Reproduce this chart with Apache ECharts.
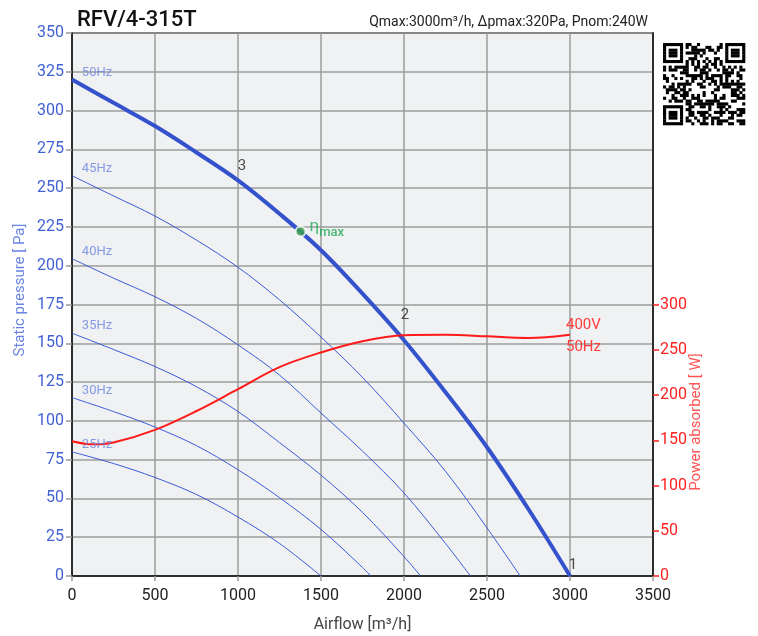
<!DOCTYPE html>
<html>
<head>
<meta charset="utf-8">
<script src="https://cdn.jsdelivr.net/npm/echarts@6.0.0/dist/echarts.min.js"></script>
<style>html,body{margin:0;padding:0;background:#fff;}#chart{width:758px;height:636px;}</style>
</head>
<body>
<div id="chart"></div>
<script>
// ---- data ----
const xTicks = [0, 500, 1000, 1500, 2000, 2500, 3000, 3500];
const curveNames = ['50Hz', '45Hz', '40Hz', '35Hz', '30Hz', '25Hz'];
const curve50 = [[0,320],[250,305],[500,290],[750,273],[1000,255],[1250,233.5],[1500,210],[1750,182],[2000,152],[2250,118.5],[2500,83],[2750,43],[3000,0]];
const curve45 = [[0,258],[250,245],[500,232],[750,216.5],[1000,199],[1250,178],[1500,154],[1750,128],[2000,98.5],[2250,67.5],[2500,31],[2700,0]];
const curve40 = [[0,204.5],[250,192],[500,180],[750,166],[1000,149],[1250,129.5],[1500,105],[1750,80.5],[2000,53.5],[2250,21],[2400,0]];
const curve35 = [[0,156.5],[250,146],[500,135],[750,122],[1000,106],[1250,86],[1500,65],[1750,41],[2000,12.5],[2100,0]];
const curve30 = [[0,115],[250,106],[500,96],[750,84],[1000,68.5],[1250,50.5],[1500,30],[1750,5.5],[1800,0]];
const curve25 = [[0,80],[250,72.5],[500,63.5],[750,52.5],[1000,38],[1250,21],[1500,0]];
const powerCurve = [[0,149],[125,145.5],[250,147.5],[500,161.5],[750,182.3],[1000,206.5],[1250,230.8],[1500,247],[1750,259.4],[2000,266],[2250,266.5],[2500,264.8],[2750,263],[3000,266.6]];
const etaMax = [1377, 222];
const pointNames = ['3', '2', '1'];
const pointValues = [[1000, 255], [2000, 152], [3000, 0]];
const powerTicks = [0, 50, 100, 150, 200, 250, 300];

const FONT = 'Roboto';
const curves = [curve50, curve45, curve40, curve35, curve30, curve25];

// decorative QR-like block
function qrGraphic(x0, y0, size, n) {
  const m = [];
  let s = 20240611;
  for (let r = 0; r < n; r++) { const row = []; for (let c = 0; c < n; c++) { s = (s * 1103515245 + 12345) & 0x7fffffff; row.push((s >> 16) & 1); } m.push(row); }
  const finder = (r0, c0) => {
    for (let r = -1; r < 8; r++) for (let c = -1; c < 8; c++) {
      const rr = r0 + r, cc = c0 + c;
      if (rr < 0 || cc < 0 || rr >= n || cc >= n) continue;
      let v = 0;
      if (r >= 0 && r < 7 && c >= 0 && c < 7) v = (r === 0 || r === 6 || c === 0 || c === 6 || (r >= 2 && r <= 4 && c >= 2 && c <= 4)) ? 1 : 0;
      m[rr][cc] = v;
    }
  };
  finder(0, 0); finder(0, n - 7); finder(n - 7, 0);
  for (let i = 8; i < n - 8; i++) { m[6][i] = i % 2 === 0 ? 1 : 0; m[i][6] = i % 2 === 0 ? 1 : 0; }
  const ms = size / n;
  const els = [];
  for (let r = 0; r < n; r++) {
    let c = 0;
    while (c < n) {
      if (m[r][c]) { let c2 = c; while (c2 < n && m[r][c2]) c2++; els.push({ type: 'rect', shape: { x: x0 + c * ms, y: y0 + r * ms, width: (c2 - c) * ms + 0.3, height: ms + 0.3 }, style: { fill: '#000' } }); c = c2; }
      else c++;
    }
  }
  return { type: 'group', children: els };
}

const chart = echarts.init(document.getElementById('chart'), null, { renderer: 'canvas' });

const series = [];
curves.forEach((c, i) => {
  series.push({
    type: 'line', name: curveNames[i], data: c, yAxisIndex: 0,
    smooth: 0.35, showSymbol: false, symbol: 'none',
    lineStyle: { color: i === 0 ? '#3352cc' : '#3a5ad6', width: i === 0 ? 4 : 1 },
    z: i === 0 ? 4 : 3, silent: true
  });
});
series.push({
  type: 'line', name: 'power', data: powerCurve, yAxisIndex: 1,
  smooth: 0.35, showSymbol: false, symbol: 'none',
  lineStyle: { color: '#ff1a1a', width: 2 }, z: 5, silent: true,
  endLabel: { show: true, formatter: '400V\n50Hz', color: '#ff3b3b', fontFamily: FONT, fontSize: 15, lineHeight: 22, offset: [-12, 2] }
});
// curve frequency labels
series.push({
  type: 'scatter', yAxisIndex: 0, symbolSize: 1, itemStyle: { color: 'rgba(0,0,0,0)' }, silent: true, z: 6,
  data: curves.map((c, i) => ({ value: c[0], name: curveNames[i] })),
  label: { show: true, position: 'inside', formatter: p => p.name, color: '#6a84e0', fontFamily: FONT, fontSize: 13, offset: [25, -7] }
});
// operating point labels
series.push({
  type: 'scatter', yAxisIndex: 0, symbolSize: 1, itemStyle: { color: 'rgba(0,0,0,0)' }, silent: true, z: 6,
  data: pointValues.map((v, i) => ({ value: v, name: pointNames[i] })),
  label: { show: true, position: 'inside', formatter: p => p.name, color: '#222', fontFamily: FONT, fontSize: 15 },
  labelLayout: function (p) {
    const offs = [[4, -14], [1, -25], [3, -11]];
    const o = offs[p.dataIndex];
    return { x: p.rect.x + p.rect.width / 2 + o[0], y: p.rect.y + p.rect.height / 2 + o[1], align: 'center', verticalAlign: 'middle' };
  }
});
// eta max
series.push({
  type: 'scatter', yAxisIndex: 0, data: [etaMax], symbolSize: 10, z: 7, silent: true,
  itemStyle: { color: '#3fa34d', borderColor: '#fff', borderWidth: 2 },
  label: {
    show: true, position: 'right', distance: 3, offset: [0, -3],
    formatter: '{e|η}{m|max}',
    rich: { e: { color: '#1faa55', fontFamily: FONT, fontSize: 17, verticalAlign: 'top' }, m: { color: '#1faa55', fontFamily: FONT, fontSize: 13, fontWeight: 500, padding: [8, 0, 0, 0] } }
  }
});

const plain = v => String(v);

chart.setOption({
  animation: false,
  backgroundColor: '#fff',
  textStyle: { fontFamily: FONT },
  title: [
    { text: 'RFV/4-315T', left: 72, top: 4, textStyle: { fontFamily: FONT, fontSize: 22, fontWeight: 500, color: '#111' } },
    { text: 'Qmax:3000m³/h, Δpmax:320Pa, Pnom:240W', right: 105, top: 10, textStyle: { fontFamily: FONT, fontSize: 14, fontWeight: 'normal', color: '#222' } }
  ],
  grid: { left: 72, right: 105, top: 33, bottom: 60, containLabel: false, outerBoundsMode: 'none', show: true, backgroundColor: '#f0f1f3', borderColor: '#111', borderWidth: 1.5 },
  xAxis: {
    type: 'value', min: 0, max: 3500, interval: 500,
    name: 'Airflow [m³/h]', nameLocation: 'middle', nameGap: 41,
    nameTextStyle: { color: '#444', fontFamily: FONT, fontSize: 16 },
    axisLine: { show: true, lineStyle: { color: '#111', width: 1.5 } },
    axisTick: { show: true, length: 5, lineStyle: { color: '#999', width: 1.5 } },
    axisLabel: { color: '#222', fontFamily: FONT, fontSize: 16, margin: 12, formatter: plain },
    splitLine: { show: true, lineStyle: { color: '#9c9c9c', width: 1.5 } }
  },
  yAxis: [
    {
      type: 'value', min: 0, max: 350, interval: 25, position: 'left',
      axisLine: { show: true, lineStyle: { color: '#111', width: 1.5 } },
      axisTick: { show: true, length: 6, lineStyle: { color: '#999', width: 1.5 } },
      axisLabel: { color: '#4262d4', fontFamily: FONT, fontSize: 16, margin: 8, formatter: plain },
      splitLine: { show: true, lineStyle: { color: '#9c9c9c', width: 1.5 } }
    },
    {
      type: 'value', min: 0, max: 600, interval: 50, position: 'right',
      axisLine: { show: true, lineStyle: { color: '#111', width: 1.5 } },
      axisTick: { show: true, length: 6, customValues: powerTicks, lineStyle: { color: '#ff2020', width: 1.5 } },
      axisLabel: { color: '#ff2020', fontFamily: FONT, fontSize: 16, margin: 7, customValues: powerTicks, formatter: plain },
      splitLine: { show: false }
    }
  ],
  graphic: [
    { type: 'text', x: 20, y: 290, rotation: Math.PI / 2, style: { text: 'Static pressure [ Pa]', fill: '#6a84e0', font: '15px ' + FONT, align: 'center', verticalAlign: 'middle' } },
    { type: 'text', x: 696, y: 422, rotation: Math.PI / 2, style: { text: 'Power absorbed [ W]', fill: '#ff5555', font: '15px ' + FONT, align: 'center', verticalAlign: 'middle' } },
    qrGraphic(663, 43, 82, 29)
  ],
  series: series
});
</script>
</body>
</html>
